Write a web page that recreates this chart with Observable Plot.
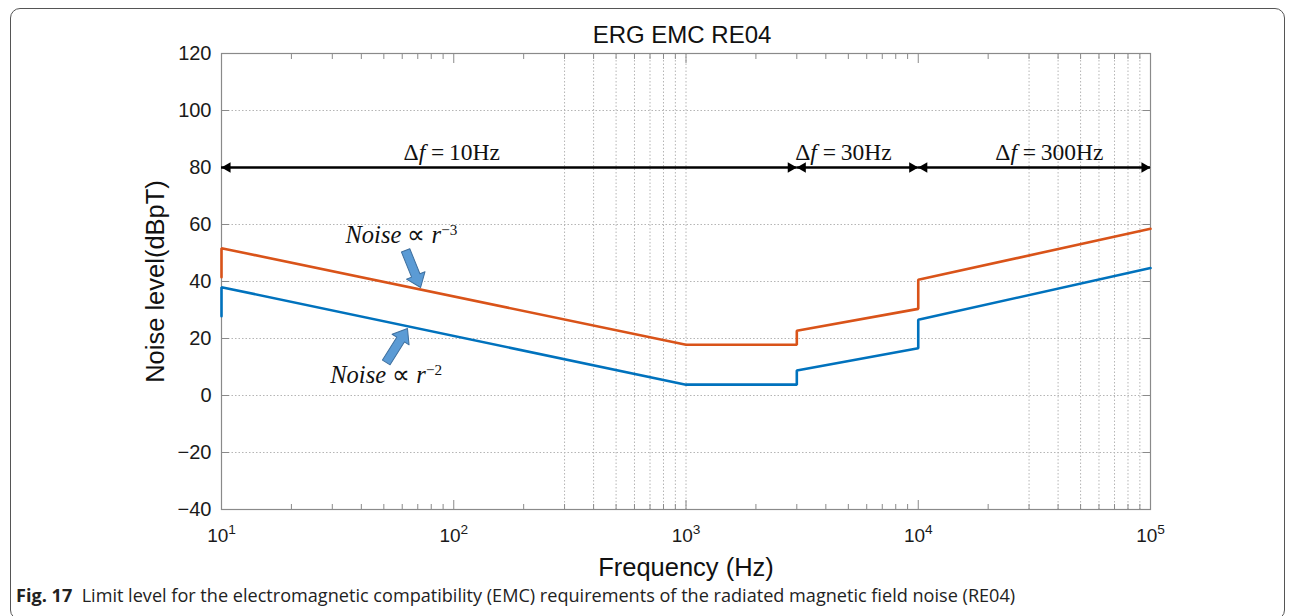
<!DOCTYPE html>
<html>
<head>
<meta charset="utf-8">
<script src="https://cdn.jsdelivr.net/npm/d3@7"></script>
<script src="https://cdn.jsdelivr.net/npm/@observablehq/plot@0.6"></script>
<style>
  html, body { margin: 0; padding: 0; background: #fff; width: 1293px; height: 616px; overflow: hidden; }
  #chart { position: absolute; left: 0; top: 0; }
  #box { position: absolute; left: 10px; top: 8px; width: 1275px; height: 612px; border: 1.3px solid #555; border-radius: 10px; box-sizing: border-box; z-index: 5; pointer-events: none; }
  #title { position: absolute; left: 482px; width: 400px; top: 23px; text-align: center; font: 24px/23px "Liberation Sans", Arial, sans-serif; color: #111; white-space: nowrap; }
  #caption { position: absolute; left: 16px; top: 585px; font: 18.1px/20px "Open Sans", "Noto Sans", sans-serif; color: #222; white-space: nowrap; }
</style>
</head>
<body>
<div id="chart"></div>
<div id="title">ERG EMC RE04</div>
<div id="caption"><b>Fig. 17</b>&nbsp; Limit level for the electromagnetic compatibility (EMC) requirements of the radiated magnetic field noise (RE04)</div>
<div id="box"></div>
<script>
// ---- data ----
const freq = [10, 10, 1000, 3000, 3000, 10000, 10000, 100000];
const limitR3 = [41.5, 51.7, 17.8, 17.8, 22.7, 30.4, 40.6, 58.5];   // Noise ∝ r^-3 (orange)
const limitR2 = [27.8, 38.0, 3.8, 3.8, 8.8, 16.6, 26.6, 44.7];     // Noise ∝ r^-2 (blue)

const bandStart = [10, 3000, 10000];
const bandEnd = [3000, 10000, 100000];
const bandLevel = [80, 80, 80];
const bandLabels = ["Δf = 10Hz", "Δf = 30Hz", "Δf = 300Hz"];
const bandLabelFreq = [98, 4760, 36700];
const bandLabelLevel = [85.3, 85.3, 85.3];

const noiseLabels = ["Noise ∝ r^−3", "Noise ∝ r^−2"];
const noiseLabelFreq = [34.2, 29.4];
const noiseLabelLevel = [56.2, 7.0];
const pointerFreq = [72, 63.2];
const pointerLevel = [37.9, 23.5];
const pointerAngle = [158, 32];

const yTicks = [-40, -20, 0, 20, 40, 60, 80, 100, 120];
const yGrid = [-20, 0, 20, 40, 60, 80, 100];
const xMajor = [10, 100, 1000, 10000, 100000];
const xMinor = [20, 30, 40, 50, 60, 70, 80, 90,
                200, 300, 400, 500, 600, 700, 800, 900,
                2000, 3000, 4000, 5000, 6000, 7000, 8000, 9000,
                20000, 30000, 40000, 50000, 60000, 70000, 80000, 90000];
const xGrid = [300, 400, 500, 600, 700, 800, 900, 1000,
               30000, 40000, 50000, 60000, 70000, 80000, 90000, 100000];

const yLabel = "Noise level(dBpT)";
const xLabel = "Frequency (Hz)";

// ---- tables built from arrays ----
const r3 = freq.map((f, i) => ({f, v: limitR3[i]}));
const r2 = freq.map((f, i) => ({f, v: limitR2[i]}));
const bands = bandStart.map((s, i) => ({s, e: bandEnd[i], y: bandLevel[i], label: bandLabels[i], lf: bandLabelFreq[i], ly: bandLabelLevel[i]}));
const notes = noiseLabels.map((t, i) => ({t, f: noiseLabelFreq[i], v: noiseLabelLevel[i], pf: pointerFreq[i], pv: pointerLevel[i], a: pointerAngle[i]}));

const blockArrow = {
  draw(ctx, l) {
    const sw = 4.5, hw = 10, hl = 13;
    ctx.moveTo(-sw, 0);
    ctx.lineTo(-sw, -(l - hl));
    ctx.lineTo(-hw, -(l - hl));
    ctx.lineTo(0, -l);
    ctx.lineTo(hw, -(l - hl));
    ctx.lineTo(sw, -(l - hl));
    ctx.lineTo(sw, 0);
    ctx.closePath();
  }
};

const gridStyle = {stroke: "#b5b5b5", strokeOpacity: 1, strokeWidth: 1, strokeDasharray: "1.5,2"};
const axisGray = "#8a8a8a";
const serif = "'Liberation Serif', 'Times New Roman', serif";

const chart = Plot.plot({
  width: 1293,
  height: 590,
  marginLeft: 221,
  marginRight: 143,
  marginTop: 53,
  marginBottom: 81,
  style: {fontFamily: "'Liberation Sans', Arial, sans-serif", fontSize: "20px", color: "#1a1a1a", background: "transparent"},
  x: {type: "log", domain: [10, 100000]},
  y: {domain: [-40, 120]},
  marks: [
    Plot.gridY(yGrid, gridStyle),
    Plot.gridX(xGrid, gridStyle),
    Plot.frame({stroke: axisGray, strokeWidth: 1.2}),
    // tick labels
    Plot.axisY(yTicks, {anchor: "left", tickSize: 0, tickPadding: 10, fontSize: 20, label: null}),
    Plot.axisX(xMajor, {anchor: "bottom", tickSize: 0, tickPadding: 19, fontSize: 19, label: null,
      tickFormat: d => `10^${Math.round(Math.log10(d))}`}),
    // inward ticks
    Plot.axisY(yTicks, {anchor: "left", tickSize: -8, tickFormat: () => "", label: null, stroke: axisGray}),
    Plot.axisY(yTicks, {anchor: "right", tickSize: -8, tickFormat: () => "", label: null, stroke: axisGray}),
    Plot.axisX(xMajor, {anchor: "bottom", tickSize: -9, tickFormat: () => "", label: null, stroke: axisGray}),
    Plot.axisX(xMinor, {anchor: "bottom", tickSize: -5, tickFormat: () => "", label: null, stroke: axisGray}),
    Plot.axisX(xMajor, {anchor: "top", tickSize: -9, tickFormat: () => "", label: null, stroke: axisGray}),
    Plot.axisX(xMinor, {anchor: "top", tickSize: -5, tickFormat: () => "", label: null, stroke: axisGray}),
    // axis titles
    Plot.text([yLabel], {frameAnchor: "left", dx: -66, rotate: -90, textAnchor: "middle", lineAnchor: "middle", text: d => d, fontSize: 25.5, fill: "#111"}),
    Plot.text([xLabel], {frameAnchor: "bottom", dy: 58, textAnchor: "middle", lineAnchor: "middle", text: d => d, fontSize: 25.5, fill: "#111"}),
    // limit lines
    Plot.line(r3, {x: "f", y: "v", stroke: "#D95319", strokeWidth: 2.6, strokeLinejoin: "miter"}),
    Plot.line(r2, {x: "f", y: "v", stroke: "#0072BD", strokeWidth: 2.6, strokeLinejoin: "miter"}),
    // band arrows
    Plot.ruleY(bands, {y: "y", x1: "s", x2: "e", stroke: "#000", strokeWidth: 2.6}),
    Plot.dot(bands, {x: "e", y: "y", symbol: "triangle", r: 3.9, rotate: 90, dx: -6, fill: "#000", stroke: "none"}),
    Plot.dot(bands, {x: "s", y: "y", symbol: "triangle", r: 3.9, rotate: -90, dx: 6, fill: "#000", stroke: "none"}),
    Plot.text(bands, {x: "lf", y: "ly", text: "label", fontSize: 23.5, fontFamily: serif, fill: "#111"}),
    // pointers and labels
    Plot.vector(notes, {x: "pf", y: "pv", rotate: "a", length: 40, anchor: "end", shape: blockArrow, fill: "#5B9BD5", stroke: "#3E6F9E", strokeWidth: 1}),
    Plot.text(notes, {x: "f", y: "v", text: "t", textAnchor: "start", fontSize: 24.5, fontFamily: serif, fill: "#111"})
  ]
});
document.getElementById("chart").appendChild(chart);

// ---- rich text: superscripts and italics ----
const svg = d3.select(chart);
svg.selectAll("text").each(function () {
  const el = d3.select(this);
  if (this.querySelector("tspan")) return;
  const t = this.textContent;
  let m;
  if ((m = t.match(/^10\^(\d)$/))) {
    el.text("");
    el.append("tspan").text("10");
    el.append("tspan").attr("dy", "-0.55em").attr("font-size", "0.72em").text(m[1]);
  } else if ((m = t.match(/^Δf = (.*)$/))) {
    el.text("");
    el.append("tspan").text("Δ");
    el.append("tspan").attr("font-style", "italic").text("f");
    el.append("tspan").text(" =\u2009" + m[1]);
  } else if ((m = t.match(/^Noise ∝ r\^(.*)$/))) {
    el.text("");
    el.append("tspan").attr("font-style", "italic").text("Noise");
    el.append("tspan").text(" ∝ ");
    el.append("tspan").attr("font-style", "italic").text("r");
    el.append("tspan").attr("dy", "-0.55em").attr("font-size", "0.62em").text(m[1]);
  }
});
</script>
</body>
</html>
